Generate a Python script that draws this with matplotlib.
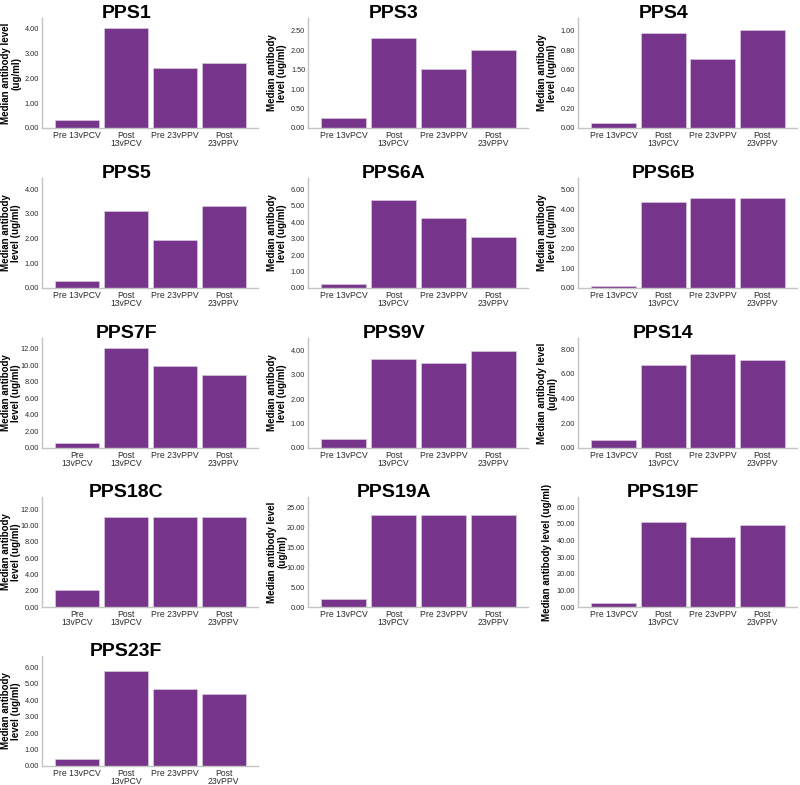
import numpy as np
import matplotlib
matplotlib.use('Agg')
import matplotlib.pyplot as plt
from matplotlib.transforms import offset_copy

plt.rcParams['font.family'] = ['Liberation Sans', 'DejaVu Sans']

# panel names, in reading order
panels = ['PPS1', 'PPS3', 'PPS4', 'PPS5', 'PPS6A', 'PPS6B', 'PPS7F',
          'PPS9V', 'PPS14', 'PPS18C', 'PPS19A', 'PPS19F', 'PPS23F']

# median antibody level (ug/ml): pre 13vPCV, post 13vPCV, pre 23vPPV, post 23vPPV
pps1 = [0.32, 4.02, 2.43, 2.63]
pps3 = [0.25, 2.31, 1.51, 2.01]
pps4 = [0.055, 0.98, 0.71, 1.01]
pps5 = [0.29, 3.12, 1.93, 3.33]
pps6a = [0.23, 5.32, 4.23, 3.12]
pps6b = [0.10, 4.38, 4.58, 4.58]
pps7f = [0.55, 12.08, 9.95, 8.85]
pps9v = [0.37, 3.66, 3.46, 3.97]
pps14 = [0.65, 6.75, 7.6, 7.08]
pps18c = [2.1, 11.1, 11.1, 11.1]
pps19a = [2.0, 23.0, 23.0, 23.0]
pps19f = [2.5, 51.0, 42.0, 49.0]
pps23f = [0.43, 5.77, 4.66, 4.35]
values = [pps1, pps3, pps4, pps5, pps6a, pps6b, pps7f, pps9v, pps14,
          pps18c, pps19a, pps19f, pps23f]

# y tick step and axis top per panel
tick_step = [1, 0.5, 0.2, 1, 1, 1, 2, 1, 2, 2, 5, 10, 1]
tick_max = [4, 2.5, 1.0, 4, 6, 5, 12, 4, 8, 12, 25, 60, 6]
y_top = [4.44, 2.83, 1.13, 4.45, 6.67, 5.6, 13.3, 4.5, 8.9, 13.5, 27.6, 66, 6.67]

xlabels = ['Pre 13vPCV', 'Post\n13vPCV', 'Pre 23vPPV', 'Post\n23vPPV']
xlabels_alt = ['Pre\n13vPCV', 'Post\n13vPCV', 'Pre 23vPPV', 'Post\n23vPPV']
alt_panels = ['PPS7F', 'PPS18C']

lab_a = 'Median antibody level\n(ug/ml)'
lab_b = 'Median antibody\nlevel (ug/ml)'
lab_c = 'Median antibody level (ug/ml)'
ylabels = [lab_a, lab_b, lab_b, lab_b, lab_b, lab_b, lab_b, lab_b, lab_a,
           lab_b, lab_a, lab_c, lab_b]

bar_color = '#76348b'
W, H = 800, 785
col_left = [42, 308, 578]
col_width = [216, 220, 219]
row_bottom = [128, 288, 448, 607, 766]
ax_h = 110

fig = plt.figure(figsize=(8, 7.85), dpi=100)

for i, name in enumerate(panels):
    r, c = i // 3, i % 3
    ax = fig.add_axes([col_left[c] / W, 1 - row_bottom[r] / H,
                       col_width[c] / W, ax_h / H])
    x = np.arange(4)
    ax.bar(x, values[i], width=0.9, color=bar_color, edgecolor='#d9c8e0', linewidth=0.5)
    ax.set_xlim(-0.72, 3.7)
    ax.set_ylim(0, y_top[i])
    ticks = np.arange(0, tick_max[i] + tick_step[i] / 2, tick_step[i])
    ax.set_yticks(ticks)
    ax.set_yticklabels(['%.2f' % t for t in ticks])
    ax.set_xticks(x)
    ax.set_xticklabels(xlabels_alt if name in alt_panels else xlabels,
                       linespacing=0.85)
    ax.tick_params(length=0, colors='#2a2a2a')
    ax.tick_params(axis='x', labelsize=6.2, pad=2)
    ax.tick_params(axis='y', labelsize=5.3, pad=2)
    for s in ['top', 'right']:
        ax.spines[s].set_visible(False)
    for s in ['left', 'bottom']:
        ax.spines[s].set_color('#c4c4c4')
        ax.spines[s].set_linewidth(1.0)
    # y label sits at a fixed distance left of the axis, like the original
    lab_tr = offset_copy(ax.transAxes, fig=fig, x=-31, y=0, units='dots')
    ax.text(0, 0.5, ylabels[i], transform=lab_tr, rotation=90, ha='center',
            va='center', multialignment='center', fontsize=7.0,
            fontweight='bold', linespacing=1.0)
    ax.text(0.39, 1.0, name, transform=ax.transAxes, ha='center', va='baseline',
            fontsize=14, fontweight='bold')

fig.savefig('out.png', dpi=100)
